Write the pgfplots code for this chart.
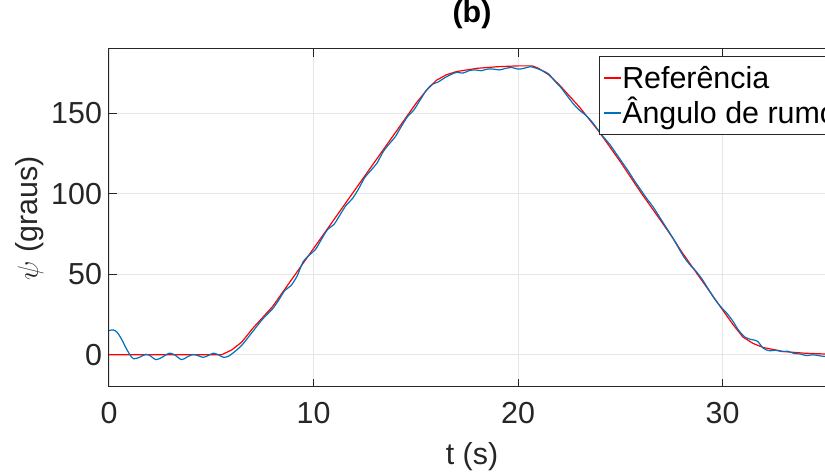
\documentclass[border=0pt]{standalone}
\usepackage{fontspec}
\setmainfont{Liberation Sans}
\usepackage{pgfplots}
\pgfplotsset{compat=1.18}
\usetikzlibrary{calc}
\definecolor{mblue}{rgb}{0,0.447,0.741}
\definecolor{axgray}{rgb}{0.15,0.15,0.15}
\newcommand{\fsz}{\fontsize{15.2}{18}\selectfont}
\begin{document}
\begin{tikzpicture}
\begin{axis}[
  scale only axis,
  width=363pt, height=169pt,
  xmin=0, xmax=35.5, ymin=-20, ymax=190,
  xtick={0,10,20,30}, ytick={0,50,100,150},
  grid=major,
  grid style={draw=black!10, line width=0.4pt},
  axis line style={draw=axgray, line width=0.5pt},
  tick style={draw=axgray, line width=0.5pt},
  tick align=inside,
  major tick length=3.8pt,
  /pgf/number format/assume math mode=true,
  tick label style={font=\fsz, text=axgray},
  xticklabel style={yshift=-4pt},
  label style={font=\fsz, text=axgray},
  xlabel={t (s)},
  ylabel={$\psi$ (graus)},
  xlabel style={at={(axis description cs:0.5,-0.207)}, anchor=center},
  ylabel style={at={(axis description cs:-0.1088,0.5)}, anchor=center},
  title={(b)},
  title style={font=\fsz\bfseries, at={(axis description cs:0.5,1.065)}, anchor=center},
  legend style={font=\fsz, at={(0.675,0.979)}, anchor=north west,
    draw=axgray, line width=0.4pt, inner sep=2pt, row sep=0pt,
    nodes={inner xsep=0.3pt, inner ysep=1.5pt, text height=12.5pt, text depth=2pt}},
  legend cell align=left,
  legend image code/.code={\draw[#1, line width=0.6pt] (0pt,0pt) -- (8.5pt,0pt);},
]
\addplot[red, line width=0.6pt] coordinates {
(0,0) (5.5,0) (6,3) (6.5,8) (7,16) (7.5,23) (8,30) (8.5,39) (9,48) (9.5,57)
(10,66) (11,84) (12,102) (13,120) (14,138) (15,156) (15.5,164) (16,170.5)
(16.5,174) (17,176) (18,178) (19,179) (20,179.5) (20.7,179.5) (21,178)
(21.5,174) (22,168) (22.5,161) (23,154) (24,138) (25,120) (26,101) (27,83)
(27.6,72) (28,64) (29,46) (30,28) (30.5,19) (31,11) (31.5,7) (32,4.5)
(33,2) (34,1) (35,0.5) (35.5,0.4)
};
\addlegendentry{Referência}
\addplot[mblue, line width=0.6pt, smooth] coordinates {
(0,15) (0.2,15.5) (0.4,14) (0.6,10) (0.8,5) (1.0,0.5) (1.2,-2.5) (1.5,-1.5)
(1.8,0.3) (2.0,-0.5) (2.3,-3) (2.6,-1.5) (2.95,1) (3.2,0) (3.55,-3) (3.8,-1.5)
(4.1,0.2) (4.35,-0.5) (4.6,-1.6) (4.85,-0.5) (5.1,1) (5.35,0) (5.6,-1.6)
(5.85,-0.8) (6.1,1.5) (6.5,6) (7,14) (7.5,22) (7.8,26) (8.0,28.5) (8.3,34)
(8.6,40) (8.9,43) (9.2,49) (9.5,58) (9.8,62) (10.1,65.5) (10.4,72) (10.7,78)
(11.0,81) (11.3,87) (11.6,93) (11.9,97) (12.2,103) (12.5,110) (12.8,114.5)
(13.1,119) (13.4,126) (13.7,131) (14.0,135.5) (14.3,142) (14.6,148) (14.9,152)
(15.2,158) (15.5,164) (15.8,168) (16.1,169.5) (16.4,172) (16.7,174) (17.0,175.5)
(17.3,175) (17.6,176.5) (17.9,177) (18.2,176.5) (18.5,177.5) (18.8,177.5)
(19.1,177) (19.4,178) (19.7,178.5) (20.0,177.5) (20.3,178) (20.6,179) (20.9,178)
(21.2,176.5) (21.5,174.5) (21.8,170) (22.1,166) (22.4,161) (22.7,156) (23.0,152)
(23.3,149) (23.6,145) (23.9,140) (24.2,135) (24.5,130.5) (24.8,125) (25.1,119.5)
(25.4,114) (25.7,108) (26.0,102.5) (26.3,97) (26.6,92) (26.9,86) (27.2,80)
(27.5,74) (27.8,67.5) (28.1,61) (28.4,56) (28.7,52) (29.0,47) (29.3,41)
(29.6,35) (29.9,30) (30.2,26) (30.5,21) (30.8,15) (31.1,11) (31.4,9.5)
(31.7,8.5) (32.0,4) (32.3,2.5) (32.6,2.8) (32.9,2.0) (33.2,2.2) (33.5,0.8)
(33.8,0.5) (34.1,-0.5) (34.4,0) (34.7,-0.5) (35.0,-1) (35.5,-1)
};
\addlegendentry{Ângulo de rumo}
\end{axis}
\pgfresetboundingbox
\useasboundingbox ($(current axis.south west)+(-54.5pt,-43.5pt)$) rectangle ($(current axis.south west)+(358pt,193.5pt)$);
\end{tikzpicture}
\end{document}
